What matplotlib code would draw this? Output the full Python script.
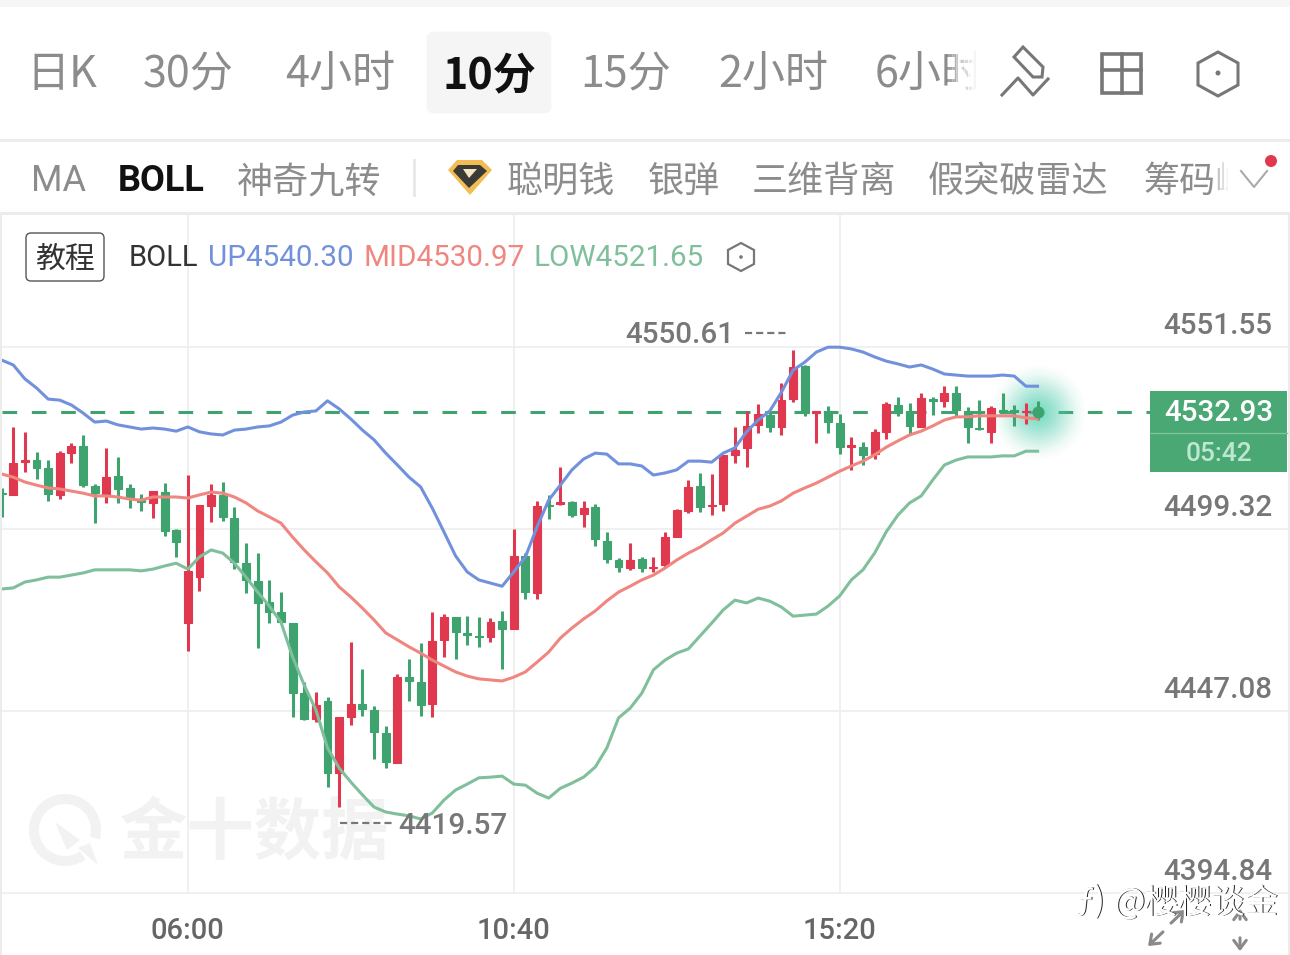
"""BOLL candlestick chart, 10 minute bars, phone app screenshot layout."""
import matplotlib

matplotlib.use("Agg")
import matplotlib.pyplot as plt
from matplotlib.patches import Circle, FancyBboxPatch, Polygon, Rectangle, Wedge

plt.rcParams["font.family"] = ["Noto Sans CJK SC", "DejaVu Sans"]

# bar values, index 16 = 06:00, 44 = 10:40, 72 = 15:20
open_ = [4509.6, 4509.1, 4518.5, 4519.1, 4516.8, 4509.1, 4521.1, 4523.1, 4511.7, 4509.1,
         4514.5, 4511.1, 4507.9, 4506.8, 4509.9, 4499.0, 4472.3, 4485.5, 4505.9, 4509.1,
         4502.5, 4489.5, 4484.4, 4478.4, 4475.5, 4472.3, 4452.2, 4444.8, 4449.9, 4429.3,
         4445.4, 4449.1, 4447.4, 4440.8, 4432.1, 4456.8, 4455.4, 4449.1, 4467.5, 4474.0,
         4469.5, 4468.6, 4468.3, 4472.9, 4470.6, 4491.6, 4480.9, 4506.2, 4506.5, 4507.1,
         4503.6, 4505.6, 4495.9, 4490.4, 4488.1, 4490.7, 4488.1, 4489.0, 4497.0, 4504.5,
         4511.7, 4505.9, 4506.5, 4520.6, 4522.6, 4529.2, 4532.0, 4528.6, 4536.6, 4546.1,
         4532.6, 4532.6, 4529.7, 4522.8, 4522.8, 4520.8, 4527.1, 4534.9, 4533.2, 4528.6,
         4536.6, 4536.0, 4538.3, 4533.2, 4528.3, 4527.2, 4533.5, 4533.5, 4532.9, 4533.0]
close = [4509.3, 4518.3, 4519.1, 4516.8, 4509.4, 4521.1, 4523.1, 4511.9, 4509.6, 4514.2,
         4510.8, 4508.5, 4507.1, 4510.2, 4498.7, 4495.6, 4487.3, 4506.2, 4509.1, 4502.8,
         4489.8, 4484.7, 4478.1, 4475.5, 4472.6, 4452.2, 4444.8, 4448.8, 4429.3, 4445.4,
         4449.1, 4447.7, 4441.1, 4432.4, 4456.8, 4455.7, 4448.8, 4467.2, 4474.0, 4469.8,
         4468.9, 4468.3, 4472.6, 4470.6, 4491.6, 4481.2, 4505.9, 4505.9, 4507.1, 4503.3,
         4505.3, 4496.4, 4490.7, 4488.4, 4490.4, 4488.1, 4488.4, 4497.0, 4504.8, 4511.4,
         4505.6, 4506.2, 4520.6, 4522.0, 4528.9, 4532.3, 4528.6, 4536.3, 4545.8, 4532.6,
         4533.2, 4530.0, 4522.8, 4523.4, 4520.6, 4527.1, 4535.2, 4532.6, 4528.9, 4536.9,
         4536.0, 4538.3, 4533.5, 4528.6, 4528.0, 4534.0, 4532.9, 4532.9, 4533.2, 4532.93]
high = [4511.1, 4528.6, 4527.2, 4521.4, 4519.1, 4521.7, 4524.0, 4526.3, 4512.2, 4522.6,
        4520.0, 4512.2, 4509.4, 4510.2, 4512.5, 4499.3, 4514.8, 4506.2, 4512.2, 4512.8,
        4505.6, 4495.3, 4492.4, 4484.7, 4481.2, 4472.3, 4455.4, 4452.5, 4451.1, 4445.4,
        4466.9, 4459.1, 4448.5, 4442.8, 4457.7, 4462.0, 4466.6, 4475.5, 4474.9, 4474.0,
        4474.3, 4474.0, 4473.8, 4475.8, 4499.3, 4492.4, 4507.4, 4509.1, 4517.1, 4507.4,
        4507.4, 4506.5, 4498.5, 4491.0, 4495.3, 4491.3, 4491.3, 4498.5, 4505.1, 4513.4,
        4515.4, 4515.1, 4520.6, 4528.6, 4533.2, 4535.2, 4533.2, 4541.2, 4550.61, 4546.4,
        4533.2, 4534.6, 4532.3, 4525.7, 4524.3, 4528.0, 4535.8, 4537.2, 4535.5, 4538.3,
        4537.2, 4540.4, 4540.4, 4534.3, 4536.3, 4534.6, 4538.3, 4534.9, 4535.5, 4536.0]
low = [4502.8, 4509.1, 4515.7, 4513.7, 4507.4, 4507.9, 4518.3, 4511.4, 4501.0, 4506.8,
       4506.8, 4505.3, 4504.5, 4502.5, 4497.3, 4491.3, 4464.3, 4481.5, 4501.3, 4501.6,
       4487.8, 4480.9, 4465.2, 4472.3, 4472.3, 4445.4, 4444.5, 4443.9, 4425.3, 4419.57,
       4443.0, 4445.6, 4433.3, 4430.7, 4432.1, 4449.9, 4445.6, 4445.4, 4462.6, 4462.0,
       4466.0, 4465.4, 4466.9, 4459.1, 4470.6, 4479.2, 4479.2, 4502.2, 4506.2, 4502.8,
       4499.9, 4494.4, 4489.6, 4487.0, 4487.6, 4487.0, 4487.0, 4488.4, 4497.0, 4503.9,
       4504.2, 4503.3, 4504.5, 4518.3, 4517.1, 4526.9, 4527.2, 4526.3, 4535.8, 4531.7,
       4524.0, 4526.9, 4520.8, 4516.3, 4517.7, 4519.4, 4525.1, 4531.7, 4526.6, 4528.6,
       4532.0, 4534.3, 4531.7, 4524.0, 4527.7, 4524.0, 4532.6, 4528.9, 4529.5, 4530.6]

boll_up = [4547.8, 4546.4, 4542.4, 4539.8, 4536.6, 4536.3, 4534.9, 4532.6, 4530.0, 4530.3,
           4529.2, 4528.6, 4528.0, 4528.3, 4528.0, 4527.4, 4528.6, 4527.2, 4526.6, 4526.3,
           4527.7, 4528.0, 4528.6, 4528.9, 4530.0, 4532.0, 4532.9, 4533.2, 4536.1, 4533.8,
           4530.9, 4527.7, 4524.9, 4521.1, 4517.7, 4514.2, 4511.4, 4505.3, 4498.5, 4491.6,
           4487.0, 4484.7, 4483.8, 4482.9, 4487.0, 4491.3, 4499.9, 4507.6, 4511.9, 4516.3,
           4519.4, 4521.1, 4520.8, 4518.0, 4518.0, 4517.4, 4514.8, 4515.4, 4516.3, 4518.8,
           4518.8, 4518.5, 4521.1, 4522.6, 4527.2, 4530.6, 4533.2, 4538.6, 4544.9, 4547.2,
           4550.1, 4551.5, 4551.5, 4551.0, 4550.1, 4548.7, 4547.5, 4546.7, 4545.8, 4546.4,
           4545.2, 4543.8, 4543.5, 4543.2, 4543.2, 4543.2, 4543.5, 4543.2, 4540.3, 4540.3]
boll_mid = [4515.1, 4514.2, 4512.8, 4511.9, 4511.1, 4510.8, 4510.2, 4509.6, 4508.8, 4508.8,
            4508.5, 4507.9, 4507.6, 4508.5, 4508.5, 4508.5, 4508.2, 4509.1, 4509.9, 4509.6,
            4508.5, 4506.8, 4504.5, 4502.8, 4501.0, 4497.0, 4493.3, 4489.9, 4486.7, 4482.7,
            4479.8, 4476.6, 4473.2, 4469.5, 4467.5, 4465.5, 4463.7, 4461.7, 4460.0, 4458.3,
            4457.1, 4456.3, 4456.0, 4455.7, 4456.8, 4458.3, 4461.1, 4464.0, 4468.0, 4470.9,
            4473.5, 4475.8, 4478.7, 4481.2, 4482.9, 4484.7, 4486.1, 4488.1, 4490.4, 4492.4,
            4494.1, 4496.2, 4498.2, 4501.0, 4503.0, 4505.0, 4505.9, 4507.4, 4509.6, 4511.1,
            4512.5, 4514.2, 4515.9, 4517.4, 4518.8, 4520.6, 4522.8, 4524.6, 4526.3, 4527.4,
            4528.9, 4530.6, 4531.5, 4531.5, 4531.8, 4531.8, 4531.8, 4531.8, 4531.2, 4530.97]
boll_low = [4482.1, 4482.4, 4484.1, 4484.7, 4485.5, 4485.5, 4486.1, 4486.7, 4487.6, 4487.6,
            4487.6, 4487.6, 4487.3, 4487.8, 4488.7, 4489.5, 4487.8, 4491.3, 4493.3, 4492.4,
            4489.5, 4485.5, 4481.2, 4477.2, 4472.6, 4462.6, 4454.5, 4447.4, 4436.5, 4430.7,
            4426.7, 4423.0, 4419.5, 4418.1, 4417.5, 4417.0, 4416.1, 4417.8, 4421.5, 4424.4,
            4426.1, 4427.9, 4428.1, 4428.4, 4426.1, 4425.8, 4423.5, 4422.1, 4424.9, 4426.4,
            4428.1, 4431.0, 4436.5, 4445.1, 4447.9, 4452.2, 4458.9, 4461.7, 4463.7, 4464.9,
            4468.6, 4472.3, 4476.1, 4478.9, 4478.1, 4479.5, 4478.6, 4476.9, 4474.3, 4474.6,
            4474.9, 4477.2, 4480.1, 4484.7, 4487.6, 4492.4, 4498.5, 4503.3, 4506.8, 4508.8,
            4513.4, 4517.7, 4519.1, 4520.0, 4520.0, 4520.0, 4520.3, 4520.3, 4521.65, 4521.65]

price_ticks = [4551.55, 4499.32, 4447.08, 4394.84]
time_ticks = [16, 44, 72]
time_labels = ["06:00", "10:40", "15:20"]
last_price = 4532.93
countdown = "05:42"
max_label = "4550.61"
min_label = "4419.57"

tabs = [("日K", 26), ("30分", 143), ("4小时", 285), ("15分", 580), ("2小时", 718), ("6小时", 875)]
indicators = [("神奇九转", 237), ("聪明钱", 507), ("银弹", 648), ("三维背离", 752),
              ("假突破雷达", 928), ("筹码峰", 1143)]

RED = "#e0394f"
GREEN = "#3fa36f"
BLUE_LINE = "#7291dc"
RED_LINE = "#f08680"
GREEN_LINE = "#80bf9b"
GREY = "#8c8c8c"
LATIN = ["Roboto", "DejaVu Sans"]

fig = plt.figure(figsize=(12.9, 9.55), dpi=100, facecolor="white")


def pixel_axes(zorder):
    a = fig.add_axes([0, 0, 1, 1], zorder=zorder)
    a.set_xlim(0, 1290)
    a.set_ylim(955, 0)
    a.axis("off")
    return a


# bg sits under the chart (watermark), ui on top (header, labels), both in pixels
bg = pixel_axes(1)
ui = pixel_axes(3)
ui.patch.set_alpha(0)

ax = fig.add_axes([0, 0, 1, 1], zorder=2)
ax.patch.set_alpha(0)
ax.axis("off")
ax.set_xlim(-1.6 / 11.64, (1290 - 1.6) / 11.64)
ax.set_ylim(4651.14 - 955 * 0.287, 4651.14)

ui.add_patch(Rectangle((0, 0), 1290, 7, color="#f6f6f6", lw=0))
ui.add_patch(Rectangle((0, 139), 1290, 3, color="#ececec", lw=0))
ui.add_patch(Rectangle((0, 212), 1290, 3, color="#ececec", lw=0))
ui.add_patch(Rectangle((0, 212), 2, 743, color="#ececec", lw=0))
ui.add_patch(Rectangle((1288, 212), 2, 743, color="#ececec", lw=0))

# top tabs
ui.add_patch(FancyBboxPatch((428, 33), 122, 79, boxstyle="round,pad=0,rounding_size=6",
                            fc="#f5f5f5", ec="#f5f5f5", lw=2))
for label, x in tabs:
    ui.text(x, 75, label, fontsize=31, color=GREY, ha="left", va="center")
ui.text(443, 75, "10分", fontsize=31, color="#111111", ha="left", va="center", fontweight="bold")
for i in range(7):
    ui.add_patch(Rectangle((948 + 4 * i, 40), 4.5, 65, fc="white", ec="none",
                           alpha=0.2 + 0.12 * i, zorder=5))
ui.add_patch(Rectangle((976, 40), 26, 65, fc="white", ec="none", zorder=5))

# pencil, grid and hexagon icons
ICON = "#777777"
ui.add_patch(Polygon([(1023, 47), (1014, 57), (1033, 77), (1042, 77), (1043, 67)],
                     fc="none", ec=ICON, lw=2.2, zorder=6))
ui.plot([1002, 1018, 1033, 1048], [95, 78, 95, 79], color=ICON, lw=2.2, zorder=6)
ui.add_patch(Rectangle((1102, 54), 39, 39, fc="none", ec=ICON, lw=2.6))
ui.plot([1121.5, 1121.5], [54, 93], color=ICON, lw=2.6)
ui.plot([1102, 1141], [70, 70], color=ICON, lw=2.6)
ui.add_patch(Polygon([(1218, 52), (1238, 63), (1238, 85), (1218, 96), (1198, 85), (1198, 63)],
                     fc="none", ec=ICON, lw=2.2))
ui.add_patch(Circle((1218, 73), 2.5, color=ICON, lw=0))

# indicator row
ui.text(31, 181, "MA", fontsize=26, color=GREY, ha="left", va="center", family=LATIN)
ui.text(118, 181, "BOLL", fontsize=26, color="#111111", ha="left", va="center",
        fontweight="bold", family=LATIN)
for label, x in indicators:
    ui.text(x, 182, label, fontsize=26, color=GREY, ha="left", va="center")
for i in range(4):
    ui.add_patch(Rectangle((1212 + 4 * i, 155), 4.5, 50, fc="white", ec="none",
                           alpha=0.3 + 0.2 * i, zorder=5))
ui.add_patch(Rectangle((1228, 155), 60, 50, fc="white", ec="none", zorder=5))
ui.plot([414, 414], [160, 195], color="#e8e8e8", lw=2)
ui.add_patch(Polygon([(457, 160), (482, 160), (492, 170), (470, 195), (448, 170)],
                     fc="#f3bd55", ec="none"))
ui.add_patch(Polygon([(458, 165), (480, 165), (487, 171), (469, 188), (453, 171)],
                     fc="#3a3a36", ec="none"))
ui.add_patch(Polygon([(463, 169), (477, 169), (469, 178)], fc="#f6e6c0", ec="none"))
ui.plot([1241, 1254, 1267], [171, 187, 171], color="#aaaaaa", lw=1.5, zorder=6)
ui.add_patch(Circle((1271, 161), 6, color=RED, lw=0, zorder=6))

# legend row
ui.add_patch(FancyBboxPatch((26, 233), 78, 48, boxstyle="round,pad=0,rounding_size=5",
                            fc="white", ec="#555555", lw=1))
ui.text(65, 259, "教程", fontsize=21.5, color="#333333", ha="center", va="center")
ui.text(129, 258, "BOLL", fontsize=21, color="#333333", ha="left", va="center", family=LATIN)
ui.text(208, 258, "UP4540.30", fontsize=21.3, color=BLUE_LINE, ha="left", va="center", family=LATIN)
ui.text(363, 258, "MID4530.97", fontsize=21.3, color=RED_LINE, ha="left", va="center", family=LATIN)
ui.text(533, 258, "LOW4521.65", fontsize=21.3, color=GREEN_LINE, ha="left", va="center", family=LATIN)
ui.add_patch(Polygon([(741, 243), (754, 250), (754, 264), (741, 271), (728, 264), (728, 250)],
                     fc="none", ec=ICON, lw=1.6))
ui.add_patch(Circle((741, 257), 1.8, color=ICON, lw=0))

# watermark behind the candles
bg.add_patch(Wedge((65, 830), 36, 55, 375, width=10, fc="#f2f2f2", ec="none"))
bg.add_patch(Polygon([(55, 822), (80, 840), (67, 850)], fc="#f2f2f2", ec="none"))
bg.add_patch(Polygon([(78, 848), (90, 843), (98, 865)], fc="#f2f2f2", ec="none"))
bg.text(120, 834, "金十数据", fontsize=48.5, color="#f2f2f2", ha="left", va="center", fontweight="bold")

# grid
for p in price_ticks:
    ax.axhline(p, color="#eeeeee", lw=1.2, zorder=0)
    ax.annotate(f"{p:.2f}", xy=(1, p), xycoords=("axes fraction", "data"), xytext=(-18, 21),
                textcoords="offset pixels", ha="right", va="center",
                fontsize=21.3, color="#777777", family=LATIN, fontweight="medium")
for t, label in zip(time_ticks, time_labels):
    ax.plot([t, t], [price_ticks[-1], 4651.14 - 215 * 0.287], color="#eeeeee", lw=1.2, zorder=0)
    ax.annotate(label, xy=(t, price_ticks[-1]), xytext=(0, -38), textcoords="offset pixels",
                ha="center", va="center", fontsize=21, color="#666666", family=LATIN,
                fontweight="medium")

# last price line
ax.plot([0, 1150 / 11.64], [last_price, last_price], color=GREEN, lw=2.2,
        dashes=(4.8, 4.8), zorder=1)

# pulsing dot on the last bar, glow under the candles
for r in range(48, 4, -2):
    ax.scatter(len(close) - 1, last_price, s=(2 * r * 0.72) ** 2, color="#55d8b4",
               alpha=0.012 + 0.1 * (1 - r / 48), lw=0, zorder=1.5)

# candles
x = list(range(len(close)))
colors = [RED if c >= o else GREEN for o, c in zip(open_, close)]
ax.vlines(x, low, high, colors=colors, lw=2.2, zorder=2)
bottoms = [min(o, c) for o, c in zip(open_, close)]
heights = [abs(c - o) for o, c in zip(open_, close)]
ax.bar(x, heights, bottom=bottoms, width=0.68, color=colors, edgecolor=colors, lw=0.8, zorder=2)

# bollinger bands
ax.plot(x, boll_up, color=BLUE_LINE, lw=2.2, zorder=3, solid_joinstyle="round")
ax.plot(x, boll_mid, color=RED_LINE, lw=2.2, zorder=3, solid_joinstyle="round")
ax.plot(x, boll_low, color=GREEN_LINE, lw=2.2, zorder=3, solid_joinstyle="round")
ax.scatter(x[-1], last_price, s=75, color=GREEN, lw=0, zorder=5)

# high and low markers
ax.annotate(max_label, xy=(68, 4550.61), xytext=(-168, 15), textcoords="offset pixels",
            ha="left", va="center", fontsize=21.3, color="#777777", family=LATIN, fontweight="medium")
ax.annotate(min_label, xy=(29, 4419.57), xytext=(59, -19), textcoords="offset pixels",
            ha="left", va="center", fontsize=21.3, color="#777777", family=LATIN, fontweight="medium")
ui.plot([745, 788], [333, 333], color="#777777", lw=1.6, dashes=(3.2, 1.8))
ui.plot([340, 393], [823, 823], color="#777777", lw=1.6, dashes=(3.2, 1.8))

# current price tag
ui.add_patch(Rectangle((1150, 391), 137, 81, color="#4aa874", lw=0))
ui.text(1219, 413, f"{last_price:.2f}", fontsize=21.3, color="white", ha="center", va="center",
        family=LATIN, fontweight="medium")
ui.text(1219, 454, countdown, fontsize=19, color="#bfe6d0", ha="center", va="center",
        family=LATIN, fontweight="medium")
ui.plot([1150, 1287], [433, 433], color="#7cc49c", lw=1)

# corner arrows
ARROW = dict(arrowstyle="->,head_length=0.6,head_width=0.45", color="#8a8a8a", lw=2.2)
ui.annotate("", xy=(1146, 948), xytext=(1165, 930), arrowprops=ARROW)
ui.annotate("", xy=(1187, 908), xytext=(1169, 925), arrowprops=ARROW)
ui.annotate("", xy=(1240, 954), xytext=(1240, 935), arrowprops=ARROW)
ui.annotate("", xy=(1240, 906), xytext=(1240, 922), arrowprops=ARROW)

# embossed credit bottom right
for dx, col in ((1.5, "#222222"), (0, "white")):
    ui.text(1090 + dx, 903, "ƒ)", fontsize=24, color=col, ha="center", va="center")
    ui.text(1113 + dx, 903, "@樱樱谈金", fontsize=24, color=col, ha="left", va="center")

fig.savefig("out.png", dpi=100)
plt.close(fig)
